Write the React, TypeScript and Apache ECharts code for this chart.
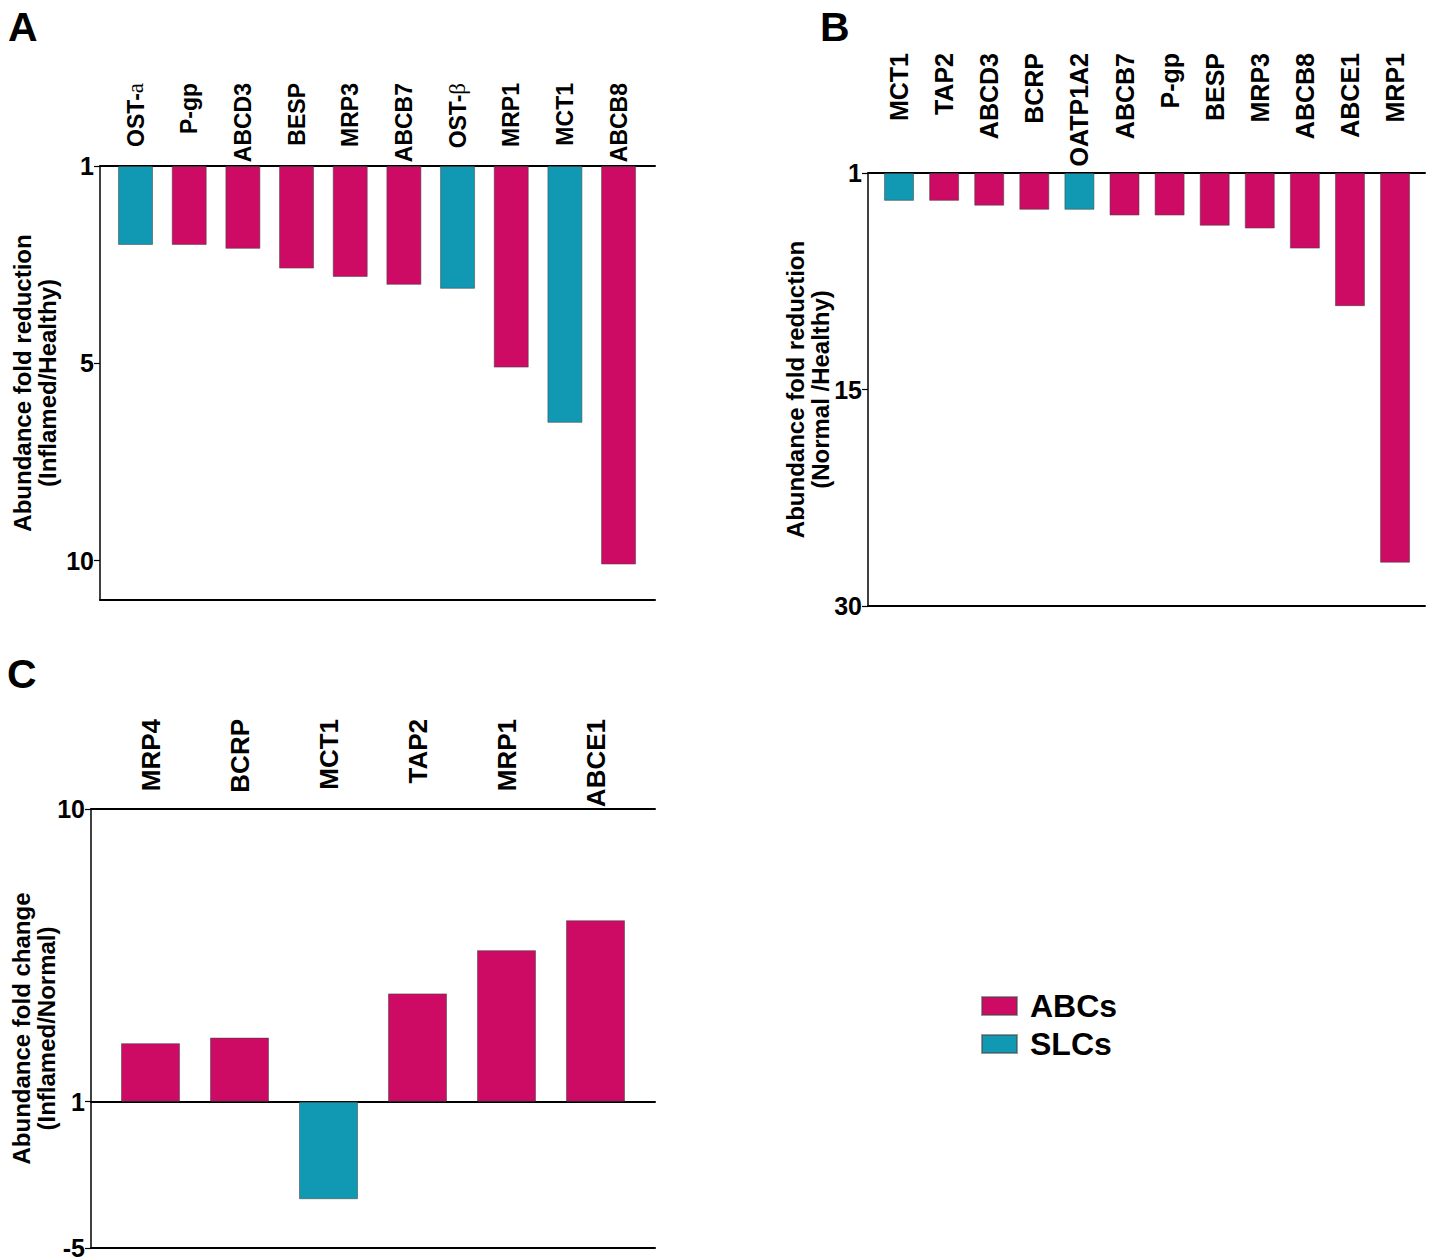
import React, { useEffect, useRef } from 'react';
import * as echarts from 'echarts';

// Transporter families and their fill colours
const MAGENTA = '#CD0A64';
const TEAL = '#1198B3';
const FONT = '"Liberation Sans", Arial, Helvetica, sans-serif';

type Fam = 'ABC' | 'SLC';

// Panel A — abundance fold reduction, inflamed vs healthy
const catsA = ['OST-a', 'P-gp', 'ABCD3', 'BESP', 'MRP3', 'ABCB7', 'OST-β', 'MRP1', 'MCT1', 'ABCB8'];
const valsA = [2.6, 2.6, 2.68, 3.08, 3.25, 3.41, 3.49, 5.11, 6.51, 10.1];
const famsA: Fam[] = ['SLC', 'ABC', 'ABC', 'ABC', 'ABC', 'ABC', 'SLC', 'ABC', 'SLC', 'ABC'];
const ticksA = [1, 5, 10];

// Panel B — abundance fold reduction, normal vs healthy
const catsB = ['MCT1', 'TAP2', 'ABCD3', 'BCRP', 'OATP1A2', 'ABCB7', 'P-gp', 'BESP', 'MRP3', 'ABCB8', 'ABCE1', 'MRP1'];
const valsB = [2.8, 2.8, 3.11, 3.38, 3.38, 3.75, 3.75, 4.41, 4.59, 5.89, 9.61, 27.0];
const famsB: Fam[] = ['SLC', 'ABC', 'ABC', 'ABC', 'SLC', 'ABC', 'ABC', 'ABC', 'ABC', 'ABC', 'ABC', 'ABC'];
const ticksB = [1, 15, 30];

// Panel C — abundance fold change, inflamed vs normal
const catsC = ['MRP4', 'BCRP', 'MCT1', 'TAP2', 'MRP1', 'ABCE1'];
const valsC = [2.8, 2.97, -3.0, 4.33, 5.66, 6.58];
const famsC: Fam[] = ['ABC', 'ABC', 'SLC', 'ABC', 'ABC', 'ABC'];
const ticksC = [-5, 1, 10];

const legendNames = ['ABCs', 'SLCs'];

interface Box { left: number; top: number; width: number; height: number }

interface PanelCfg {
  cats: string[];
  vals: number[];
  fams: Fam[];
  ticks: number[];
  spans: number[]; // relative lengths of the segments between ticks
  extent: [number, number];
  inverse: boolean;
  frame: Box;
  bars: { left: number; width: number };
  barWidth: number;
  labelSize: number;
  labelMargin: number;
  title: string;
  nameGap: number;
  zeroLine: boolean;
}

// Piecewise-linear (segmented) axis: ticks sit at fixed relative spacing,
// values between ticks are interpolated; bars grow from the value 1.
function makeScale(ticks: number[], spans: number[], base: number) {
  const cum = [0];
  spans.forEach((s, i) => cum.push(cum[i] + s));
  const raw = (v: number) => {
    let i = 0;
    while (i < spans.length - 1 && v > ticks[i + 1]) i++;
    return cum[i] + ((v - ticks[i]) / (ticks[i + 1] - ticks[i])) * spans[i];
  };
  const b = raw(base);
  return (v: number) => raw(v) - b;
}

const panels: PanelCfg[] = [
  {
    cats: catsA, vals: valsA, fams: famsA, ticks: ticksA, spans: [1, 1], extent: [1, 11], inverse: true,
    frame: { left: 100, top: 166, width: 555, height: 434 },
    bars: { left: 108.7, width: 536.7 },
    barWidth: 35, labelSize: 23, labelMargin: 83,
    title: 'Abundance fold reduction\n(Inflamed/Healthy)', nameGap: 40, zeroLine: false,
  },
  {
    cats: catsB, vals: valsB, fams: famsB, ticks: ticksB, spans: [1, 1], extent: [1, 30], inverse: true,
    frame: { left: 868, top: 173, width: 557, height: 433 },
    bars: { left: 876.5, width: 541.1 },
    barWidth: 30, labelSize: 25, labelMargin: 120,
    title: 'Abundance fold reduction\n(Normal /Healthy)', nameGap: 35, zeroLine: false,
  },
  {
    cats: catsC, vals: valsC, fams: famsC, ticks: ticksC, spans: [1, 2], extent: [-5, 10], inverse: false,
    frame: { left: 91, top: 809, width: 564, height: 439 },
    bars: { left: 106, width: 534 },
    barWidth: 59, labelSize: 26, labelMargin: 90,
    title: 'Abundance fold change\n(Inflamed/Normal)', nameGap: 32, zeroLine: true,
  },
];

const hLine = { show: true, onZero: false, lineStyle: { color: '#000', width: 2 } };

function buildOption() {
  const grid: any[] = [];
  const xAxis: any[] = [];
  const yAxis: any[] = [];
  const series: any[] = [];

  panels.forEach((p) => {
    const scale = makeScale(p.ticks, p.spans, 1);
    const yMin = scale(p.extent[0]);
    const yMax = scale(p.extent[1]);
    const tickU = p.ticks.map(scale);
    const tickLabel = (u: number) => {
      const k = tickU.findIndex((t) => Math.abs(t - u) < 1e-6);
      return k >= 0 ? String(p.ticks[k]) : '';
    };

    // Frame grid: y axis with ticks and title, top and bottom rules
    const fg = grid.length;
    grid.push({ ...p.frame, show: false, outerBoundsMode: 'none', containLabel: false });
    const common = { type: 'value', gridIndex: fg, min: 0, max: 1, axisTick: { show: false }, axisLabel: { show: false }, splitLine: { show: false } };
    xAxis.push({ ...common, position: 'top', axisLine: hLine });
    xAxis.push({ ...common, position: 'bottom', axisLine: hLine });
    yAxis.push({
      type: 'value', gridIndex: fg, min: yMin, max: yMax, inverse: p.inverse, position: 'left',
      axisLine: { show: true, onZero: false, lineStyle: { color: '#000', width: 1.5 } },
      axisTick: { show: true, length: 6, customValues: tickU, lineStyle: { color: '#000', width: 1.2 } },
      axisLabel: {
        show: true, customValues: tickU, formatter: tickLabel, margin: 6,
        color: '#000', fontFamily: FONT, fontWeight: 'bold', fontSize: 25, lineHeight: 20,
      },
      splitLine: { show: false },
      name: p.title, nameLocation: 'middle', nameRotate: 90, nameGap: p.nameGap, nameMoveOverlap: false,
      nameTextStyle: { color: '#000', fontFamily: FONT, fontWeight: 'bold', fontSize: 24, lineHeight: 25, align: 'center' },
    });

    // Rule at the value 1 when the axis spans both directions
    if (p.zeroLine) {
      const zg = grid.length;
      const h = (p.frame.height * (yMax - 0)) / (yMax - yMin);
      grid.push({ left: p.frame.left, top: p.frame.top, width: p.frame.width, height: h, show: false, outerBoundsMode: 'none', containLabel: false });
      xAxis.push({ ...common, gridIndex: zg, position: 'bottom', axisLine: hLine });
      yAxis.push({ type: 'value', gridIndex: zg, min: 0, max: 1, show: false });
    }

    // Bar grid: categories along the top, bars grow from the value 1
    const bg = grid.length;
    grid.push({ left: p.bars.left, top: p.frame.top, width: p.bars.width, height: p.frame.height, show: false, outerBoundsMode: 'none', containLabel: false });
    const bx = xAxis.length;
    xAxis.push({
      type: 'category', gridIndex: bg, position: 'top', data: p.cats,
      axisLine: { show: false, onZero: false }, axisTick: { show: false }, splitLine: { show: false },
      axisLabel: {
        show: true, interval: 0, rotate: -90, align: 'right', verticalAlign: 'middle', margin: p.labelMargin,
        formatter: (v: string) => {
          const m = v.match(/^(OST-)(.)$/);
          return m ? `{n|${m[1]}}{g|${m[2]}}` : `{n|${v}}`;
        },
        rich: {
          n: { color: '#000', fontFamily: FONT, fontWeight: 'bold', fontSize: p.labelSize },
          g: { color: '#000', fontFamily: '"Liberation Serif", "DejaVu Serif", serif', fontWeight: 'normal', fontSize: p.labelSize },
        },
      },
    });
    const by = yAxis.length;
    yAxis.push({ type: 'value', gridIndex: bg, min: yMin, max: yMax, inverse: p.inverse, show: false });

    const fams: { name: string; fam: Fam; color: string }[] = [
      { name: legendNames[0], fam: 'ABC', color: MAGENTA },
      { name: legendNames[1], fam: 'SLC', color: TEAL },
    ];
    fams.forEach((f) => {
      series.push({
        type: 'bar', name: f.name, xAxisIndex: bx, yAxisIndex: by,
        data: p.vals.map((v, i) => (p.fams[i] === f.fam ? scale(v) : '-')),
        barWidth: p.barWidth, barGap: '-100%',
        itemStyle: { color: f.color, borderColor: 'rgba(70,70,70,0.55)', borderWidth: 1 },
        emphasis: { disabled: true },
      });
    });
  });

  const letter = (text: string, left: number, top: number) => ({
    type: 'text', left, top,
    style: { text, fill: '#000', font: `bold 41px ${FONT}` },
  });

  return {
    animation: false,
    backgroundColor: '#fff',
    grid, xAxis, yAxis, series,
    legend: {
      data: legendNames, orient: 'vertical', left: 976, top: 984,
      icon: 'rect', itemWidth: 35, itemHeight: 18, itemGap: 4,
      selectedMode: false,
      textStyle: { color: '#000', fontFamily: FONT, fontWeight: 'bold', fontSize: 32, lineHeight: 34, padding: [0, 0, 0, 8] },
    },
    graphic: [letter('A', 8, 6), letter('B', 820, 6), letter('C', 7, 653)],
  };
}

export default function App() {
  const ref = useRef<HTMLDivElement>(null);
  useEffect(() => {
    const chart = echarts.init(ref.current!, null, { renderer: 'svg' });
    chart.setOption(buildOption() as any);
    return () => chart.dispose();
  }, []);
  return (
    <div
      ref={ref}
      style={{ position: 'fixed', left: 0, top: 0, width: 1435, height: 1260, background: '#fff' }}
    />
  );
}
